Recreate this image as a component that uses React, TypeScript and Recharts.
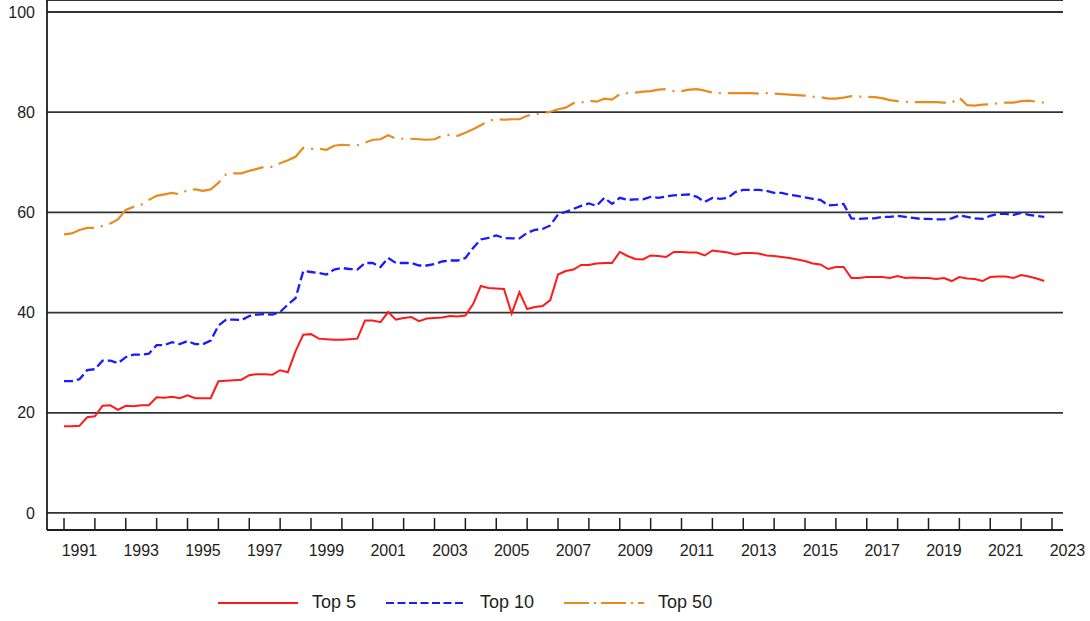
import { CartesianGrid, Legend, Line, LineChart, XAxis, YAxis } from "recharts";

// quarterly shares, 1991Q1 .. 2022Q4
const START_YEAR = 1991;

const top5 = [
  17.3, 17.3, 17.4, 19.1, 19.3, 21.4, 21.5, 20.6, 21.4, 21.3,
  21.5, 21.5, 23.1, 23.0, 23.2, 22.9, 23.5, 22.9, 22.9, 22.9,
  26.3, 26.4, 26.5, 26.6, 27.5, 27.7, 27.7, 27.6, 28.5, 28.1,
  32.3, 35.6, 35.7, 34.8, 34.7, 34.6, 34.6, 34.7, 34.8, 38.4,
  38.4, 38.1, 40.1, 38.6, 38.9, 39.1, 38.3, 38.8, 38.9, 39.0,
  39.3, 39.2, 39.4, 41.7, 45.3, 44.9, 44.8, 44.7, 39.8, 44.1,
  40.7, 41.1, 41.3, 42.5, 47.6, 48.3, 48.6, 49.5, 49.5, 49.8,
  49.9, 49.9, 52.1, 51.3, 50.7, 50.6, 51.4, 51.3, 51.1, 52.1,
  52.1, 52.0, 52.0, 51.4, 52.4, 52.2, 52.0, 51.6, 51.9, 51.9,
  51.8, 51.4, 51.3, 51.1, 50.9, 50.6, 50.3, 49.8, 49.6, 48.7,
  49.1, 49.1, 46.9, 46.9, 47.1, 47.1, 47.1, 46.9, 47.3, 46.9,
  47.0, 46.9, 46.9, 46.7, 46.9, 46.3, 47.1, 46.8, 46.7, 46.3,
  47.1, 47.2, 47.2, 46.9, 47.5, 47.2, 46.8, 46.3,
];

const top10 = [
  26.3, 26.3, 26.7, 28.5, 28.7, 30.4, 30.4, 29.9, 31.1, 31.6,
  31.6, 31.8, 33.5, 33.5, 34.1, 33.7, 34.3, 33.7, 33.7, 34.4,
  37.4, 38.6, 38.6, 38.5, 39.3, 39.6, 39.7, 39.6, 40.1, 41.6,
  42.9, 48.3, 48.1, 47.9, 47.6, 48.6, 48.9, 48.7, 48.6, 49.9,
  49.9, 49.1, 50.9, 49.9, 49.9, 49.9, 49.4, 49.4, 49.7, 50.2,
  50.4, 50.4, 50.9, 52.9, 54.6, 54.9, 55.4, 54.9, 54.8, 54.8,
  55.9, 56.5, 56.7, 57.4, 59.6, 60.1, 60.7, 61.3, 61.8, 61.3,
  62.9, 61.7, 62.9, 62.5, 62.6, 62.6, 63.1, 62.9, 63.2, 63.4,
  63.5, 63.6, 63.1, 62.1, 62.9, 62.7, 62.9, 64.1, 64.5, 64.5,
  64.5, 64.3, 63.9, 63.9, 63.5, 63.3, 63.0, 62.7, 62.5, 61.4,
  61.5, 61.7, 58.8, 58.7, 58.8, 58.8, 59.1, 59.1, 59.3, 59.1,
  58.9, 58.7, 58.7, 58.6, 58.6, 58.8, 59.4, 59.1, 58.8, 58.7,
  59.3, 59.7, 59.7, 59.5, 59.9, 59.5, 59.3, 59.1,
];

const top50 = [
  55.6, 55.8, 56.5, 56.9, 56.9, 57.3, 57.8, 58.6, 60.5, 61.1,
  61.5, 62.5, 63.3, 63.6, 63.9, 63.6, 64.5, 64.6, 64.3, 64.6,
  65.9, 67.6, 67.8, 67.8, 68.3, 68.7, 69.1, 69.1, 69.8, 70.4,
  71.1, 72.9, 72.7, 72.7, 72.5, 73.3, 73.5, 73.4, 73.4, 73.9,
  74.5, 74.6, 75.4, 74.7, 74.7, 74.7, 74.6, 74.5, 74.6, 75.3,
  75.5, 75.3, 75.9, 76.6, 77.4, 78.3, 78.6, 78.5, 78.6, 78.6,
  79.3, 79.6, 79.8, 80.1, 80.6, 80.9, 81.8, 81.9, 82.3, 82.1,
  82.7, 82.5, 83.6, 83.8, 83.9, 84.1, 84.2, 84.5, 84.6, 84.2,
  84.2, 84.5, 84.6, 84.3, 83.9, 83.8, 83.8, 83.8, 83.8, 83.8,
  83.7, 83.8, 83.7, 83.6, 83.5, 83.4, 83.3, 83.1, 83.0, 82.7,
  82.7, 82.9, 83.2, 83.1, 83.1, 83.0, 82.8, 82.4, 82.2, 82.1,
  82.0, 82.0, 82.0, 82.0, 81.9, 81.9, 82.9, 81.4, 81.3, 81.5,
  81.6, 81.8, 81.9, 81.9, 82.2, 82.3, 82.1, 81.9,
];

const yearTicks = Array.from({ length: 33 }, (_, i) => START_YEAR + i);
const valueTicks = [0, 20, 40, 60, 80, 100];

const data = top5.map((v, i) => ({
  t: START_YEAR + i / 4,
  top5: v,
  top10: top10[i],
  top50: top50[i],
}));

const WIDTH = 1090;
const HEIGHT = 621;
const Y_AXIS_W = 47;
const RIGHT = 27;
const X_MIN = 1990.449;
const X_MAX = 2023.356;
const HALF_YEAR_PX = (WIDTH - Y_AXIS_W - RIGHT) / (X_MAX - X_MIN) / 2;

const FONT = '"Liberation Sans", Arial, sans-serif';
const INK = "#1e1e1e";
const RED = "#ff1a1a";
const BLUE = "#1a1aff";
const ORANGE = "#e88b1e";

function YearTick(props: any) {
  const { x, y, payload } = props;
  const year = payload.value as number;
  return (
    <g>
      <line x1={x} x2={x} y1={y - 12} y2={y} stroke={INK} strokeWidth={1.5} />
      {year % 2 === 1 && (
        <text
          x={x + HALF_YEAR_PX}
          y={y + 26}
          textAnchor="middle"
          fontSize={16}
          fontFamily={FONT}
          fill={INK}
        >
          {year}
        </text>
      )}
    </g>
  );
}

const legendItems = [
  { name: "Top 5", color: RED, dash: undefined },
  { name: "Top 10", color: BLUE, dash: "8 3.5" },
  { name: "Top 50", color: ORANGE, dash: "25 5 2 5" },
];

function LegendContent() {
  return (
    <div style={{ display: "flex", alignItems: "center", fontFamily: FONT, fontSize: 18, color: INK }}>
      {legendItems.map((it) => (
        <div key={it.name} style={{ display: "flex", alignItems: "center", marginRight: 30 }}>
          <svg width={80} height={10}>
            <line x1={0} x2={80} y1={5} y2={5} stroke={it.color} strokeWidth={2} strokeDasharray={it.dash} />
          </svg>
          <span style={{ marginLeft: 14 }}>{it.name}</span>
        </div>
      ))}
    </div>
  );
}

export default function App() {
  return (
    <div style={{ position: "absolute", left: 0, top: 0, background: "#fff" }}>
      <LineChart
        width={WIDTH}
        height={HEIGHT}
        data={data}
        margin={{ top: 0, right: RIGHT, bottom: 0, left: 0 }}
      >
        <CartesianGrid vertical={false} stroke="#333" strokeWidth={1.8} />
        <XAxis
          dataKey="t"
          type="number"
          domain={[X_MIN, X_MAX]}
          allowDataOverflow
          ticks={yearTicks}
          interval={0}
          height={91}
          tickLine={false}
          tickSize={0}
          tickMargin={0}
          axisLine={{ stroke: INK, strokeWidth: 1.8 }}
          tick={<YearTick />}
        />
        <YAxis
          type="number"
          domain={[-3.4, 102.4]}
          allowDataOverflow
          ticks={valueTicks}
          width={Y_AXIS_W}
          tickLine={false}
          tickSize={0}
          tickMargin={12}
          axisLine={{ stroke: INK, strokeWidth: 1.8 }}
          tick={{ fontSize: 16, fontFamily: FONT, fill: INK }}
        />
        <Legend
          verticalAlign="middle"
          align="center"
          layout="horizontal"
          wrapperStyle={{ top: 592, left: 218, width: "auto" }}
          content={<LegendContent />}
        />
        <Line
          type="linear"
          dataKey="top5"
          name="Top 5"
          stroke={RED}
          strokeWidth={2}
          dot={false}
          isAnimationActive={false}
        />
        <Line
          type="linear"
          dataKey="top10"
          name="Top 10"
          stroke={BLUE}
          strokeWidth={2.3}
          strokeDasharray="9 4"
          dot={false}
          isAnimationActive={false}
        />
        <Line
          type="linear"
          dataKey="top50"
          name="Top 50"
          stroke={ORANGE}
          strokeWidth={2.2}
          strokeDasharray="31 7 2 7"
          dot={false}
          isAnimationActive={false}
        />
      </LineChart>
    </div>
  );
}
